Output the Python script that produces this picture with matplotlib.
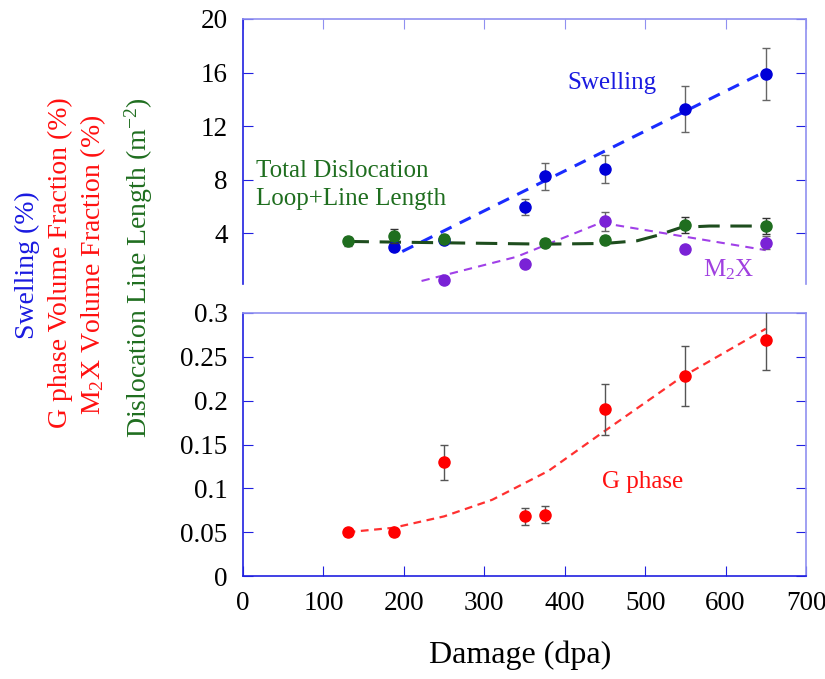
import matplotlib
matplotlib.use("Agg")
import matplotlib.pyplot as plt

# data
dpa = [130, 188, 250, 350, 375, 450, 550, 650]

swell_x = [188, 250, 350, 375, 450, 550, 650]
swell = [3.0, 3.5, 6.0, 8.25, 8.8, 13.3, 15.9]
swell_err = [0, 0, 0.6, 1.0, 1.05, 1.7, 1.95]
swell_fit_x = [198, 650]
swell_fit = [2.65, 16.1]

disl_x = [130, 188, 250, 375, 450, 550, 650]
disl = [3.4, 3.8, 3.6, 3.3, 3.5, 4.65, 4.55]
disl_err = [0.35, 0.5, 0.3, 0.25, 0.3, 0.6, 0.6]
disl_fit_x = [130, 250, 375, 450, 490, 515, 545, 580, 650]
disl_fit = [3.4, 3.3, 3.2, 3.25, 3.45, 3.85, 4.45, 4.55, 4.55]

m2x_x = [250, 350, 450, 550, 650]
m2x = [0.5, 1.7, 4.9, 2.85, 3.3]
m2x_err = [0, 0, 0.7, 0, 0.5]
m2x_fit_x = [222, 340, 445, 650]
m2x_fit = [0.45, 2.25, 4.8, 2.75]

gphase = [0.050, 0.050, 0.130, 0.068, 0.070, 0.190, 0.228, 0.269]
gphase_err = [0.004, 0.004, 0.02, 0.01, 0.01, 0.029, 0.034, 0.034]
gfit_x = [130, 187, 250, 310, 380, 446, 544, 650]
gfit = [0.050, 0.055, 0.068, 0.087, 0.120, 0.163, 0.226, 0.282]

plt.rcParams['font.family'] = ['Liberation Serif', 'DejaVu Serif']
plt.rcParams['mathtext.fontset'] = 'custom'
plt.rcParams['mathtext.rm'] = 'Liberation Serif'
plt.rcParams['mathtext.it'] = 'Liberation Serif:italic'

dark_spine = '#2020e0'
light_spine = '#9090f0'
err_col = '#666666'

fig = plt.figure(figsize=(8.25, 6.79), dpi=100)
W, H = 825.0, 679.0
left = 243 / W
width = (806 - 243) / W
ax1 = fig.add_axes([left, 1 - 287 / H, width, (287 - 19) / H])
ax2 = fig.add_axes([left, 1 - 576 / H, width, (576 - 313) / H])


def style_spines(ax):
    ax.spines['left'].set_color(dark_spine)
    ax.spines['bottom'].set_color(dark_spine)
    ax.spines['top'].set_color(light_spine)
    ax.spines['right'].set_color(light_spine)
    for s in ax.spines.values():
        s.set_linewidth(1.2)


# top panel
ax1.plot(swell_fit_x, swell_fit, color='#1a2cff', lw=2.2, dashes=(4, 3))
ax1.errorbar(swell_x, swell, yerr=swell_err, fmt='o', color='#0000d8', ms=8,
             ecolor=err_col, elinewidth=1, capsize=3, zorder=3)
ax1.plot(m2x_fit_x, m2x_fit, color='#a040e8', lw=1.5, dashes=(4, 3))
ax1.errorbar(m2x_x, m2x, yerr=m2x_err, fmt='o', color='#7a22d6', ms=8,
             ecolor=err_col, elinewidth=1, capsize=3, zorder=3, clip_on=False)
ax1.plot(disl_fit_x, disl_fit, color='#1e4d1e', lw=2.2, dashes=(7, 3.5))
ax1.errorbar(disl_x, disl, yerr=disl_err, fmt='o', color='#1f6e1f', ms=8,
             ecolor='#333333', elinewidth=1, capsize=3, zorder=4)

ax1.set_xlim(0, 700)
ax1.set_ylim(0, 20)
style_spines(ax1)
ax1.spines['bottom'].set_visible(False)
ax1.spines['left'].set_bounds(0.2, 20)
ax1.spines['right'].set_bounds(0.2, 20)
ax1.set_yticks([4, 8, 12, 16, 20])
ax1.set_xticks(range(0, 701, 100))
ax1.tick_params(axis='x', which='both', bottom=False, top=True, labelbottom=False,
                direction='in', length=7, color=light_spine)
ax1.tick_params(axis='y', left=True, right=True, direction='in', length=7,
                color=dark_spine, labelsize=19.5, pad=11)

ax1.text(403, 15.2, 'Swelling', color='#1a1ae0', fontsize=18, va='center')
ax1.text(16, 8.66, 'Total Dislocation', color='#1f6e1f', fontsize=18, va='center')
ax1.text(16, 6.6, 'Loop+Line Length', color='#1f6e1f', fontsize=18, va='center')
ax1.text(572, 1.3, r'M$_\mathrm{2}$X', color='#a040e0', fontsize=18, va='center')

# bottom panel
ax2.plot(gfit_x, gfit, color='#ff3030', lw=1.6, dashes=(3.5, 2.5))
ax2.errorbar(dpa, gphase, yerr=gphase_err, fmt='o', color='#ff0000', ms=8,
             ecolor='#555555', elinewidth=1, capsize=3, zorder=3)
ax2.set_xlim(0, 700)
ax2.set_ylim(0, 0.3)
style_spines(ax2)
ax2.set_xticks(range(0, 701, 100))
ax2.set_yticks([0, 0.05, 0.1, 0.15, 0.2, 0.25, 0.3])
ax2.set_yticklabels(['0', '0.05', '0.1', '0.15', '0.2', '0.25', '0.3'])
ax2.tick_params(axis='x', bottom=True, top=False, direction='in', length=7,
                color=dark_spine, labelsize=19.5, pad=11)
ax2.tick_params(axis='y', left=True, right=True, direction='in', length=7,
                color=dark_spine, labelsize=19.5, pad=11)
ax2.text(446, 0.107, 'G phase', color='#ff1010', fontsize=18, va='center')

# axis labels
fig.text(520 / W, 1 - 655 / H, 'Damage (dpa)', fontsize=23, ha='center', va='center')
fig.text(27 / W, 1 - 265 / H, 'Swelling (%)', color='#1a1ae0', fontsize=20,
         rotation=90, ha='center', va='center')
fig.text(60 / W, 1 - 263 / H, 'G phase Volume Fraction (%)', color='#ff1010',
         fontsize=20, rotation=90, ha='center', va='center')
fig.text(93 / W, 1 - 265 / H, r'M$_\mathrm{2}$X Volume Fraction (%)', color='#ff1010',
         fontsize=20, rotation=90, ha='center', va='center')
fig.text(139 / W, 1 - 268 / H, r'Dislocation Line Length (m$^{\mathrm{-2}}$)',
         color='#1f6e1f', fontsize=20, rotation=90, ha='center', va='center')

fig.savefig('out.png', dpi=100)
